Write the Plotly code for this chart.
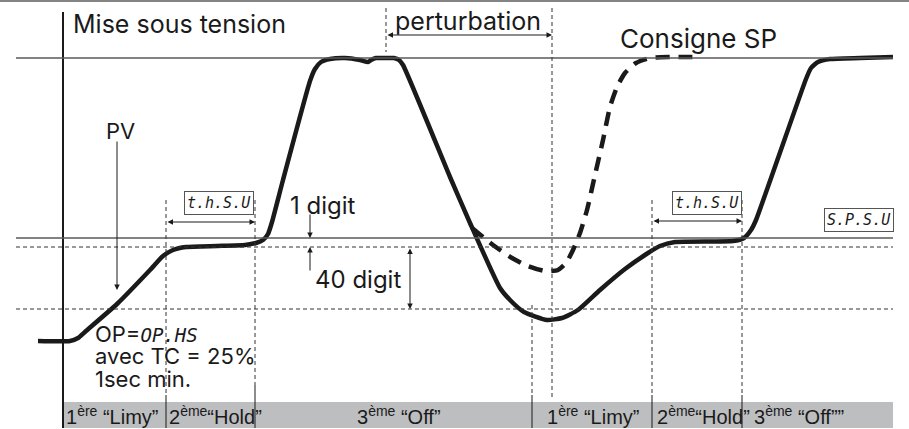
import plotly.graph_objects as go

# Process value (PV) response, time vs level (screen-down level axis)
pv_time = [38, 70, 78, 86, 117, 150, 163, 173, 186, 217, 245, 256, 263, 268, 272, 283, 310, 315, 321, 330,
           345, 360, 368, 371, 376, 385, 394, 399, 403, 450, 470, 500, 510, 524, 547, 562, 578, 600, 625,
           648, 660, 675, 733, 744, 751, 756, 806, 811, 818, 830, 860, 893]
pv_level = [341, 341, 338, 331, 304, 270, 256, 250, 247, 246, 245, 243, 240, 234, 222, 180, 81, 69, 62, 59,
            58, 60, 62, 60, 58, 58, 58, 60, 65, 177, 223, 288, 300, 312, 320, 318, 310, 290, 269,
            253, 246, 242, 241, 238, 230, 220, 79, 68, 62, 59, 58, 57]

# Set point (SP) trajectory after the disturbance
sp_time = [472, 493, 512, 528, 545, 558, 566, 573, 580, 587, 595, 603, 610, 617, 625, 636, 650, 670, 698]
sp_level = [228, 245, 258, 266, 271, 270, 263, 250, 233, 210, 175, 140, 107, 87, 73, 63, 58, 57, 57]

# Reference levels
sp_line = 58
band_top = 238
band_1digit = 247
band_40digit = 309

# Phase boundaries
t_start = 63
phase_times = [166, 255, 532, 652, 742]
disturb_start, disturb_end = 386, 552

phase_labels = ["1<sup>ère</sup> “Limy”", "2<sup>ème</sup>“Hold”", "3<sup>ème</sup> “Off”",
                "1<sup>ère</sup> “Limy”", "2<sup>ème</sup>“Hold”", "3<sup>ème</sup> “Off””"]
phase_label_x = [64, 167, 355, 545, 655, 752]

FONT = "Inter, Liberation Sans, Arial"
BAR_FONT = "Liberation Sans, Arial"
SEG = "DejaVu Sans Mono, Liberation Mono"
GRID = "#5a5a5a"
INK = "#1a1a1a"

fig = go.Figure()

fig.add_trace(go.Scatter(x=sp_time, y=sp_level, mode="lines",
                         line=dict(color=INK, width=4.5, dash="14px,9px", shape="spline", smoothing=0.6),
                         hoverinfo="skip", showlegend=False))
fig.add_trace(go.Scatter(x=pv_time, y=pv_level, mode="lines",
                         line=dict(color=INK, width=4.5, shape="spline", smoothing=0.5),
                         hoverinfo="skip", showlegend=False))

shapes = []
# phase bar
shapes.append(dict(type="rect", x0=t_start, x1=893, y0=402, y1=428, fillcolor="#bdbec0",
                   line=dict(width=0), layer="below"))
# frame lines
shapes.append(dict(type="line", x0=0, x1=909, y0=1, y1=1, line=dict(color=GRID, width=1.5)))
shapes.append(dict(type="line", x0=t_start, x1=t_start, y0=12, y1=428, line=dict(color=INK, width=2)))
for lvl in (sp_line, band_top):
    shapes.append(dict(type="line", x0=16, x1=893, y0=lvl, y1=lvl, line=dict(color=GRID, width=1.3)))
for lvl in (band_1digit, band_40digit):
    shapes.append(dict(type="line", x0=16, x1=893, y0=lvl, y1=lvl,
                       line=dict(color="#333", width=1, dash="4px,3px")))
# phase boundary markers
dashed_from = {166: 200, 255: 200, 532: 305, 652: 200, 742: 200}
solid_from = {166: 395, 255: 385, 532: 395, 652: 395, 742: 395}
for t in phase_times:
    shapes.append(dict(type="line", x0=t, x1=t, y0=dashed_from[t], y1=solid_from[t],
                       line=dict(color="#333", width=1, dash="4px,3px")))
    shapes.append(dict(type="line", x0=t, x1=t, y0=solid_from[t], y1=428, line=dict(color=INK, width=1)))
shapes.append(dict(type="line", x0=disturb_start, x1=disturb_start, y0=8, y1=52,
                   line=dict(color="#333", width=1, dash="4px,3px")))
shapes.append(dict(type="line", x0=disturb_end, x1=disturb_end, y0=8, y1=397,
                   line=dict(color="#333", width=1, dash="4px,3px")))

ann = []


def text(x, y, s, size=22, family=FONT, anchor="left", **kw):
    ann.append(dict(x=x, y=y, text=s, showarrow=False, xanchor=anchor, yanchor="middle",
                    font=dict(family=family, size=size, color=INK), **kw))


def arrow(x0, y0, x1, y1, both=False):
    ann.append(dict(x=x1, y=y1, ax=x0, ay=y0, xref="x", yref="y", axref="x", ayref="y", text="",
                    showarrow=True, arrowhead=2, arrowsize=1.1, arrowwidth=1, arrowcolor=INK,
                    arrowside="end+start" if both else "end"))


text(71, 24, "Mise sous tension", size=25)
text(393, 21, "perturbation", size=25)
text(618, 38, "Consigne SP", size=26)
text(104, 131, "PV", size=22)
text(288, 205, "1 digit", size=24)
text(313, 279, "40 digit", size=24)
text(93, 334, "OP=<i><span style='font-family:DejaVu Sans Mono;font-size:19px'>OP.HS</span></i>", size=22)
text(93, 356, "avec TC = 25%", size=22)
text(93, 379, "1sec min.", size=22)

box = dict(bordercolor="#555", borderwidth=1, borderpad=2)
text(219, 203, "<i>t.h.S.U</i>", size=15, family=SEG, anchor="center", **box)
text(707, 203, "<i>t.h.S.U</i>", size=15, family=SEG, anchor="center", **box)
text(859, 220, "<i>S.P.S.U</i>", size=15, family=SEG, anchor="center", **box)

for x, s in zip(phase_label_x, phase_labels):
    text(x, 415, s, size=20, family=BAR_FONT)

arrow(117, 140, 117, 290)
arrow(166, 222, 255, 222, both=True)
arrow(652, 221, 742, 221, both=True)
arrow(disturb_start, 35, disturb_end, 35, both=True)
arrow(310, 213, 310, band_top)
arrow(310, 272, 310, band_1digit)
arrow(410, band_1digit, 410, band_40digit, both=True)

fig.update_layout(
    width=909, height=429, margin=dict(l=0, r=0, t=0, b=0),
    paper_bgcolor="white", plot_bgcolor="white",
    xaxis=dict(range=[0, 909], visible=False, fixedrange=True),
    yaxis=dict(range=[429, 0], visible=False, fixedrange=True),
    shapes=shapes, annotations=ann,
)

fig.write_html("out.html")
